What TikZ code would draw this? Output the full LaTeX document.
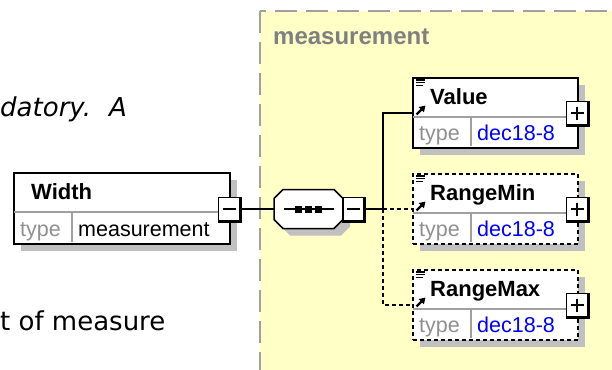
\documentclass[tikz,border=0pt]{standalone}
\usepackage{fontspec}
\setmainfont{Liberation Sans}
\newfontfamily\vfont{DejaVu Sans}
\usetikzlibrary{shadows,arrows.meta}
\definecolor{ybg}{HTML}{FFFFC6}
\definecolor{ybord}{HTML}{A0A0A0}
\definecolor{shgray}{HTML}{C0C0C0}
\definecolor{divgray}{HTML}{A0A0A0}
\definecolor{lblgray}{HTML}{808080}
\definecolor{typegray}{HTML}{909090}
\definecolor{valblue}{HTML}{0000FF}
\tikzset{
  shad/.style={drop shadow={shadow xshift=7pt,shadow yshift=-7pt,opacity=1,fill=shgray}},
  elem/.style={draw=black,line width=1.5,fill=white,inner sep=0,anchor=north west,shad},
  optelem/.style={dash pattern=on 4pt off 3pt},
  divline/.style={draw=divgray,line width=1.2},
  titletxt/.style={anchor=base west,inner sep=0,font=\fontsize{22}{24}\selectfont\bfseries},
  typelbl/.style={anchor=base west,inner sep=0,font=\fontsize{21.5}{24}\selectfont,text=typegray},
  typeval/.style={anchor=base west,inner sep=0,font=\fontsize{21.5}{24}\selectfont},
  pmbox/.style={draw=black,fill=white,line width=1.3,minimum width=21,minimum height=23,inner sep=0},
  conn/.style={draw=black,line width=1.3},
  dconn/.style={draw=black,line width=1.4,dash pattern=on 4pt off 3pt},
  seqbox/.style={draw=none,minimum width=69,minimum height=39,inner sep=0},
  bodytxt/.style={anchor=base west,inner sep=0,font=\vfont\fontsize{26}{30}\selectfont},
}
% #1 name, #2 x, #3 y, #4 w, #5 h, #6 style, #7 title, #8 type value, #9 value style
\newcommand\XElem[9]{%
  \node[elem,#6,minimum width=#4,minimum height=#5] (#1) at (#2,#3) {};
  \draw[divline] (#2+0.8,#3+40) -- (#2+#4-0.8,#3+40);
  \draw[divline] (#2+59,#3+40) -- (#2+59,#3+#5-0.8);
  \node[titletxt] (#1-title) at (#2+18,#3+27) {#7};
  \node[typelbl] (#1-tl) at (#2+7,#3+#5-6.5) {type};
  \node[typeval,#9] (#1-tv) at (#2+65,#3+#5-6.5) {#8};
}
\newcommand\XIcon[2]{%
  \draw[line width=1.3] (#1+4,#2+3) -- +(9,0) (#1+4,#2+5.8) -- +(9,0) (#1+4,#2+8.6) -- +(7,0);
  \draw[line width=2.2,-{Triangle[length=6pt,width=7pt]}] (#1+4.5,#2+37.5) -- (#1+13.5,#2+28.5);
}
% #1 name, #2 x, #3 y, #4 p or m
\newcommand\PMbox[4]{%
  \node[pmbox] (#1) at (#2,#3) {};
  \draw[line width=2.8,line join=miter] (#1.north east) -- (#1.south east) -- (#1.south west);
  \draw[line width=1.5] (#1.center) +(-6.5,0) -- +(6.5,0);
  \ifx#4p\draw[line width=1.5] (#1.center) +(0,-6.5) -- +(0,6.5);\fi
}
% chamfered octagon outline, offset #1,#2
\newcommand\OctPath[2]{(283+#1,189.5+#2) -- (334+#1,189.5+#2) -- (343+#1,198.5+#2) -- (343+#1,219.5+#2) -- (334+#1,228.5+#2) -- (283+#1,228.5+#2) -- (274+#1,219.5+#2) -- (274+#1,198.5+#2) -- cycle}
\begin{document}
\begin{tikzpicture}[x=1pt,y=-1pt]
\useasboundingbox (0,0) rectangle (612,369);
% complex type container
\draw[fill=ybg,draw=ybord,line width=1.6,dash pattern=on 22pt off 9pt] (260,11) rectangle (660,420);
\node[anchor=base west,inner sep=0,font=\fontsize{24}{26}\selectfont\bfseries,text=lblgray] (ctlabel) at (273,45) {measurement};
% body text
\node[bodytxt] (txt1) at (0,116) {\itshape datory.\hspace{18pt}A};
\node[bodytxt] (txt2) at (0,330) {t of measure};
% elements
\XElem{width}{13}{172}{216}{71}{}{Width}{measurement}{}
\XElem{value}{412}{77}{165}{70}{}{Value}{dec18-8}{text=valblue}
\XIcon{412}{77}
\XElem{rmin}{412}{173}{165}{70}{optelem}{RangeMin}{dec18-8}{text=valblue}
\XIcon{412}{173}
\XElem{rmax}{412}{269}{165}{70}{optelem}{RangeMax}{dec18-8}{text=valblue}
\XIcon{412}{269}
% sequence compositor
\node[seqbox] (seq) at (308.5,209) {};
\fill[shgray] \OctPath{7}{7};
\draw[line width=1.5,fill=white,line join=miter] \OctPath{0}{0};
\draw[line width=1.3] (seq.center) +(-25,0) -- +(25,0);
\foreach \dx in {-10,0,10} \fill ([xshift=\dx pt]seq.center) +(-3.5,-3.5) rectangle +(3.5,3.5);
% plus / minus boxes
\PMbox{wpm}{229}{209}{m}
\PMbox{spm}{353.5}{209}{m}
\PMbox{vpm}{577}{113}{p}
\PMbox{rminpm}{577}{209}{p}
\PMbox{rmaxpm}{577}{305}{p}
% connectors
\coordinate (br) at (383,209);
\draw[conn] (wpm.east) -- (seq.west);
\draw[conn] (spm.east) -- (br);
\draw[conn] (br) |- (value.west |- vpm);
\draw[dconn] (br) -- (rmin.west |- rminpm);
\draw[dconn] (br) |- (rmax.west |- rmaxpm);
\end{tikzpicture}
\end{document}
